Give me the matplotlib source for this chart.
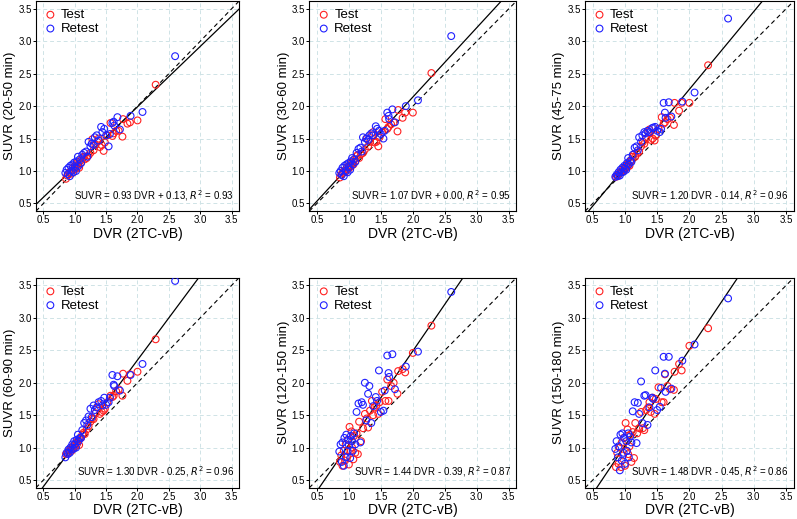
import matplotlib
matplotlib.use('Agg')
import matplotlib.pyplot as plt

plt.rcParams['font.family'] = ['Liberation Sans', 'DejaVu Sans']

RED = '#ff2020'
BLUE = '#2020ff'
GRID = '#cfe3e6'

# DVR (2TC-vB), same subjects in every panel
test_dvr = [0.86, 0.88, 0.90, 0.92, 0.94, 0.95, 0.97, 0.98, 1.00, 1.01, 1.03, 1.04, 1.05, 1.07, 1.08,
            1.10, 1.12, 1.14, 1.16, 1.19, 1.22, 1.25, 1.28, 1.30, 1.33, 1.36, 1.38, 1.40, 1.43, 1.46,
            1.48, 1.52, 1.57, 1.60, 1.62, 1.66, 1.70, 1.76, 1.77, 1.84, 1.88, 2.00, 2.29]
retest_dvr = [0.85, 0.87, 0.89, 0.90, 0.92, 0.93, 0.95, 0.96, 0.98, 0.99, 1.00, 1.02, 1.03, 1.05,
              1.06, 1.08, 1.10, 1.12, 1.15, 1.18, 1.20, 1.22, 1.25, 1.27, 1.30, 1.32, 1.35, 1.38,
              1.42, 1.44, 1.47, 1.50, 1.54, 1.56, 1.60, 1.62, 1.63, 1.68, 1.72, 1.89, 2.08, 2.60]

# SUVR per time window
test_20_50 = [0.88, 0.93, 0.95, 0.98, 1.00, 0.96, 1.05, 1.02, 1.08, 1.03, 1.12, 1.06, 1.10, 1.05, 1.15,
              1.13, 1.20, 1.22, 1.18, 1.20, 1.24, 1.28, 1.49, 1.32, 1.40, 1.45, 1.50, 1.37, 1.40, 1.31,
              1.44, 1.55, 1.74, 1.54, 1.58, 1.62, 1.62, 1.53, 1.80, 1.73, 1.75, 1.78, 2.33]
test_30_60 = [0.90, 0.94, 0.97, 1.00, 1.01, 0.99, 1.06, 1.03, 1.08, 1.05, 1.13, 1.08, 1.12, 1.10, 1.17,
              1.15, 1.23, 1.25, 1.20, 1.26, 1.28, 1.33, 1.50, 1.38, 1.45, 1.55, 1.60, 1.44, 1.45, 1.38,
              1.52, 1.60, 1.80, 1.65, 1.68, 1.72, 1.75, 1.61, 1.94, 1.82, 1.90, 1.90, 2.51]
test_45_75 = [0.91, 0.93, 0.95, 0.97, 0.99, 0.98, 1.03, 1.01, 1.06, 1.04, 1.10, 1.07, 1.10, 1.08, 1.15,
              1.16, 1.22, 1.26, 1.22, 1.27, 1.30, 1.38, 1.45, 1.42, 1.50, 1.60, 1.64, 1.48, 1.50, 1.47,
              1.55, 1.65, 1.83, 1.73, 1.75, 1.80, 1.82, 1.71, 2.05, 1.93, 2.05, 2.05, 2.63]
test_60_90 = [0.90, 0.91, 0.93, 0.96, 0.98, 0.95, 1.02, 0.99, 1.05, 1.02, 1.09, 1.06, 1.10, 1.04, 1.14,
              1.15, 1.20, 1.23, 1.21, 1.28, 1.33, 1.40, 1.45, 1.44, 1.53, 1.62, 1.67, 1.52, 1.55, 1.57,
              1.60, 1.70, 1.80, 1.78, 1.80, 1.87, 1.90, 1.80, 2.14, 2.03, 2.13, 2.17, 2.67]
test_120_150 = [0.78, 0.88, 0.72, 0.95, 0.80, 1.05, 0.86, 1.12, 0.74, 1.32, 0.95, 1.25, 1.00, 0.82, 1.18,
                0.92, 1.22, 0.90, 1.40, 1.10, 1.30, 1.52, 1.45, 1.31, 1.57, 1.72, 1.50, 1.62, 1.65, 1.52,
                1.70, 1.86, 1.72, 2.05, 1.72, 1.95, 2.00, 1.83, 2.18, 2.21, 2.16, 2.46, 2.88]
test_150_180 = [0.70, 0.92, 0.75, 1.00, 0.70, 1.08, 0.88, 1.15, 0.72, 1.38, 0.95, 1.28, 0.90, 1.02, 1.20,
                0.78, 1.24, 0.84, 1.38, 1.22, 1.30, 1.55, 1.30, 1.27, 1.58, 1.62, 1.70, 1.55, 1.77, 1.52,
                1.75, 1.93, 1.70, 1.70, 2.13, 1.95, 1.90, 1.89, 2.17, 2.29, 2.19, 2.57, 2.84]

retest_20_50 = [0.97, 1.02, 0.95, 1.05, 0.92, 1.08, 1.00, 1.10, 0.98, 1.13, 1.05, 1.00, 1.15, 1.22,
                1.08, 1.18, 1.12, 1.25, 1.28, 1.30, 1.22, 1.45, 1.38, 1.42, 1.40, 1.52, 1.55, 1.47,
                1.68, 1.60, 1.65, 1.55, 1.38, 1.57, 1.74, 1.76, 1.70, 1.83, 1.64, 1.85, 1.91, 2.77]
retest_30_60 = [0.97, 1.00, 0.94, 1.05, 0.92, 1.08, 1.00, 1.10, 0.98, 1.12, 1.06, 1.02, 1.15, 1.20,
                1.10, 1.18, 1.14, 1.28, 1.34, 1.36, 1.30, 1.52, 1.45, 1.50, 1.48, 1.55, 1.58, 1.55,
                1.69, 1.65, 1.62, 1.57, 1.50, 1.62, 1.90, 1.85, 1.80, 1.95, 1.75, 2.00, 2.09, 3.08]
retest_45_75 = [0.91, 0.94, 0.92, 0.98, 0.93, 1.02, 0.98, 1.05, 0.99, 1.08, 1.04, 1.02, 1.12, 1.20,
                1.10, 1.16, 1.14, 1.25, 1.36, 1.38, 1.32, 1.52, 1.45, 1.55, 1.60, 1.58, 1.62, 1.60,
                1.66, 1.67, 1.68, 1.62, 1.60, 1.65, 2.05, 1.90, 1.82, 2.06, 1.84, 2.07, 2.21, 3.35]
retest_60_90 = [0.85, 0.92, 0.90, 0.97, 0.92, 1.00, 0.97, 1.05, 0.98, 1.10, 1.05, 1.00, 1.12, 1.20,
                1.10, 1.15, 1.15, 1.27, 1.38, 1.42, 1.35, 1.48, 1.60, 1.47, 1.65, 1.58, 1.62, 1.70,
                1.72, 1.65, 1.77, 1.66, 1.70, 1.77, 2.12, 1.97, 1.95, 2.10, 1.88, 2.12, 2.29, 3.57]
retest_120_150 = [0.94, 1.05, 0.78, 1.08, 0.72, 1.15, 0.85, 1.20, 0.95, 1.12, 1.04, 0.84, 1.18, 1.10,
                  0.95, 1.22, 1.05, 1.55, 1.68, 1.08, 1.70, 1.66, 2.00, 1.42, 1.83, 1.95, 1.38, 1.64,
                  1.78, 1.72, 2.19, 1.55, 1.57, 1.88, 2.42, 2.15, 2.09, 2.44, 1.90, 2.25, 2.48, 3.40]
retest_150_180 = [0.98, 1.10, 0.85, 1.02, 0.65, 1.20, 0.80, 1.22, 0.92, 1.15, 0.75, 1.10, 0.95, 1.22,
                  0.85, 1.17, 1.08, 1.56, 1.70, 1.07, 1.69, 1.52, 2.02, 1.38, 1.80, 1.81, 1.35, 1.62,
                  1.77, 1.75, 2.19, 1.58, 1.63, 1.92, 2.40, 2.14, 1.86, 2.40, 1.91, 2.34, 2.59, 3.30]

windows = ['20-50', '30-60', '45-75', '60-90', '120-150', '150-180']
test_suvr = [test_20_50, test_30_60, test_45_75, test_60_90, test_120_150, test_150_180]
retest_suvr = [retest_20_50, retest_30_60, retest_45_75, retest_60_90, retest_120_150, retest_150_180]
slopes = [0.93, 1.07, 1.20, 1.30, 1.44, 1.48]
intercepts = [0.13, 0.00, -0.14, -0.25, -0.39, -0.45]
r2 = [0.93, 0.95, 0.96, 0.96, 0.87, 0.86]

ticks = [0.5, 1.0, 1.5, 2.0, 2.5, 3.0, 3.5]

fig = plt.figure(figsize=(7.97, 5.19), dpi=100)
# axes boxes in figure fractions: (left, width) per column, bottom per row
cols = [(0.045, 0.255), (0.388, 0.26), (0.734, 0.262)]
bottoms = [0.593, 0.060]

for i, win in enumerate(windows):
    row, col = divmod(i, 3)
    left, width = cols[col]
    ax = fig.add_axes([left, bottoms[row], width, 0.405])

    ax.set_xlim(0.38, 3.62)
    ax.set_ylim(0.38, 3.62)
    ax.set_xticks(ticks)
    ax.set_yticks(ticks)
    ax.set_xticklabels([f'{t:.1f}' for t in ticks])
    ax.set_yticklabels([f'{t:.1f}' for t in ticks])
    ax.grid(True, color=GRID, linestyle=(0, (4, 3)), linewidth=0.7)
    ax.set_axisbelow(True)
    ax.tick_params(labelsize=7, length=2, width=0.7, pad=1)
    for s in ax.spines.values():
        s.set_linewidth(0.8)

    ax.axline((0, 0), slope=1, color='black', linestyle=(0, (4, 3)), linewidth=0.8)
    ax.axline((0, intercepts[i]), slope=slopes[i], color='black', linewidth=0.9)

    ax.scatter(test_dvr, test_suvr[i], s=24, facecolors='none', edgecolors=RED,
               linewidths=0.8, label='Test', zorder=3)
    ax.scatter(retest_dvr, retest_suvr[i], s=24, facecolors='none', edgecolors=BLUE,
               linewidths=0.8, label='Retest', zorder=3)

    sign = '+' if intercepts[i] >= 0 else '-'
    ax.text(0.975, 0.04,
            f'SUVR = {slopes[i]:.2f} DVR {sign} {abs(intercepts[i]):.2f}, $R^2$ = {r2[i]:.2f}',
            transform=ax.transAxes, ha='right', va='bottom', fontsize=7)

    ax.legend(loc='upper left', frameon=False, fontsize=9.5, handletextpad=0.3,
              borderaxespad=0.1, labelspacing=0.12, handlelength=1.0, borderpad=0.5)

    ax.set_xlabel('DVR (2TC-vB)', fontsize=10, labelpad=1)
    ax.set_ylabel(f'SUVR ({win} min)', fontsize=9.5, labelpad=1.5)

fig.savefig('out.png', dpi=100, facecolor='white')
